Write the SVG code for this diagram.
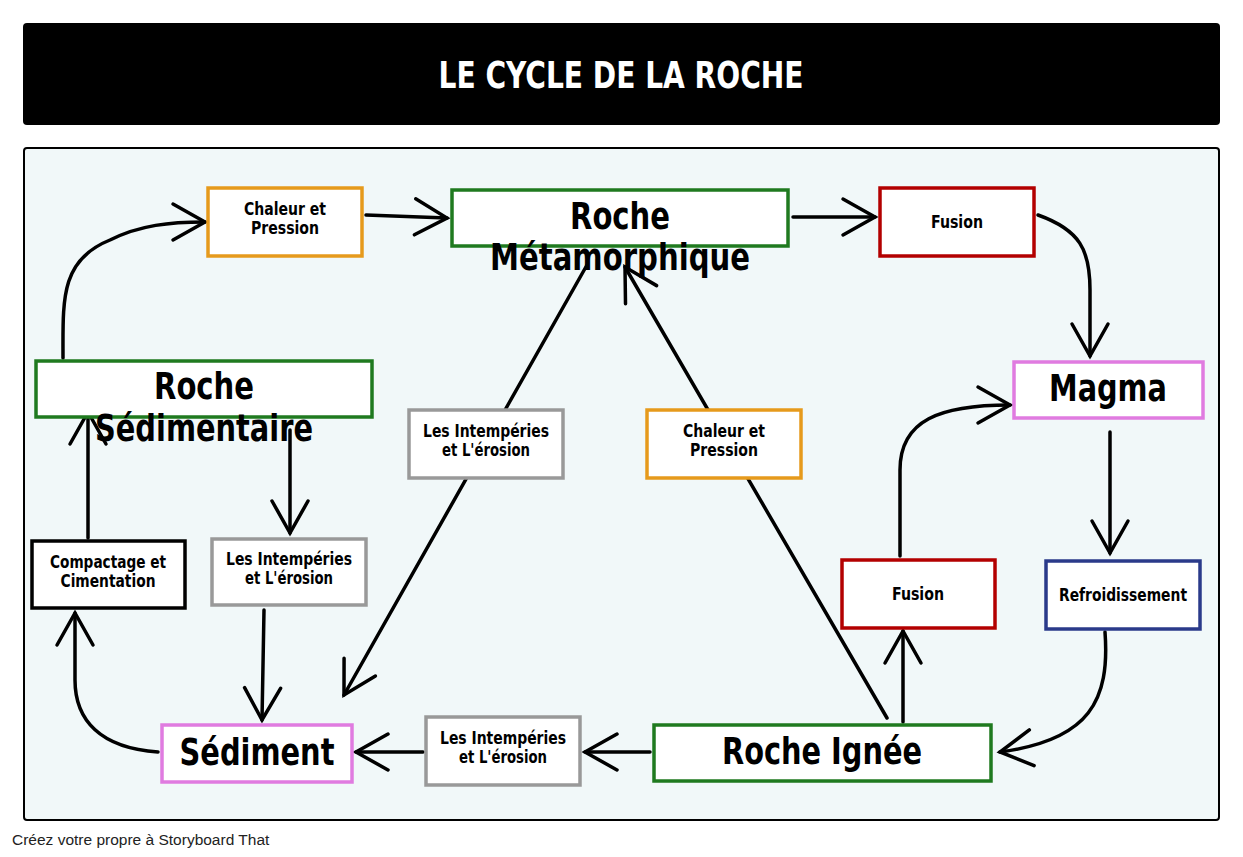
<svg xmlns="http://www.w3.org/2000/svg" width="1243" height="857" viewBox="0 0 1243 857">
<style>
.t{font-family:"DejaVu Sans Condensed","Liberation Sans Narrow","Liberation Sans",sans-serif;font-weight:bold;text-anchor:middle;fill:#000}
.s{font-size:17px}.b{font-size:38px}
.c{fill:none;stroke:#000;stroke-width:3.5;stroke-linecap:round;marker-end:url(#a)}
.box{fill:#fff;stroke-width:3.5}
</style>
<defs><marker id="a" markerUnits="userSpaceOnUse" markerWidth="50" markerHeight="50" refX="2" refY="20" orient="auto" viewBox="-40 0 50 40"><path d="M-30 2 L2 20 L-30 38" fill="none" stroke="#000" stroke-width="3.5" stroke-linecap="round"/></marker></defs>
<rect width="1243" height="857" fill="#fff"/>
<rect x="23" y="23" width="1197" height="102" rx="4" fill="#000"/>
<text x="621" y="88" class="t" style="fill:#fff;font-size:38px" textLength="365" lengthAdjust="spacingAndGlyphs">LE CYCLE DE LA ROCHE</text>
<rect x="24" y="148" width="1195" height="672" rx="3" fill="#f1f8f9" stroke="#000" stroke-width="2"/>
<g id="connectors">
<path class="c" d="M63 358 C63 300 60 260 110 240 C140 225 170 222 205 222"/>
<path class="c" d="M366 215 L447 218"/>
<path class="c" d="M793 217 L875 217"/>
<path class="c" d="M1038 215 C1080 230 1090 250 1090 290 L1090 356"/>
<path class="c" d="M1110 432 L1110 553"/>
<path class="c" d="M1105 632 C1110 700 1090 740 1000 752"/>
<path class="c" d="M650 752 L585 752"/>
<path class="c" d="M423 752 L356 752"/>
<path class="c" d="M158 752 C100 748 75 720 75 680 L75 613"/>
<path class="c" d="M88 538 L88 412"/>
<path class="c" d="M290 430 L290 533"/>
<path class="c" d="M264 610 L262 720"/>
<path class="c" d="M587 265 L344 695"/>
<path class="c" d="M887 718 L625 267"/>
<path class="c" d="M903 722 L903 631"/>
<path class="c" d="M900 556 L900 470 C900 420 940 405 1010 405"/>
</g>
<g id="n1"><rect class="box" x="208" y="188" width="154" height="68" stroke="#e69a1c"/><text class="t s" x="285" y="215" textLength="82" lengthAdjust="spacingAndGlyphs">Chaleur et</text><text class="t s" x="285" y="234" textLength="68" lengthAdjust="spacingAndGlyphs">Pression</text></g>
<g id="n2"><rect class="box" x="452" y="190" width="336" height="56" stroke="#1f7a1f"/><text class="t b" x="620" y="229" textLength="100" lengthAdjust="spacingAndGlyphs">Roche</text><text class="t b" x="620" y="270" textLength="260" lengthAdjust="spacingAndGlyphs">Métamorphique</text></g>
<g id="n3"><rect class="box" x="880" y="188" width="154" height="68" stroke="#b30000"/><text class="t s" x="957" y="228" textLength="52" lengthAdjust="spacingAndGlyphs">Fusion</text></g>
<g id="n4"><rect class="box" x="1014" y="362" width="189" height="56" stroke="#e07be0"/><text class="t b" x="1108" y="401" textLength="118" lengthAdjust="spacingAndGlyphs">Magma</text></g>
<g id="n5"><rect class="box" x="36" y="361" width="336" height="56" stroke="#1f7a1f"/><text class="t b" x="204" y="399" textLength="100" lengthAdjust="spacingAndGlyphs">Roche</text><text class="t b" x="204" y="441" textLength="218" lengthAdjust="spacingAndGlyphs">Sédimentaire</text></g>
<g id="n6"><rect class="box" x="409" y="410" width="154" height="68" stroke="#999"/><text class="t s" x="486" y="437" textLength="126" lengthAdjust="spacingAndGlyphs">Les Intempéries</text><text class="t s" x="486" y="456" textLength="88" lengthAdjust="spacingAndGlyphs">et L'érosion</text></g>
<g id="n7"><rect class="box" x="647" y="410" width="154" height="68" stroke="#e69a1c"/><text class="t s" x="724" y="437" textLength="82" lengthAdjust="spacingAndGlyphs">Chaleur et</text><text class="t s" x="724" y="456" textLength="68" lengthAdjust="spacingAndGlyphs">Pression</text></g>
<g id="n8"><rect class="box" x="32" y="541" width="153" height="67" stroke="#000"/><text class="t s" x="108" y="568" textLength="116" lengthAdjust="spacingAndGlyphs">Compactage et</text><text class="t s" x="108" y="587" textLength="95" lengthAdjust="spacingAndGlyphs">Cimentation</text></g>
<g id="n9"><rect class="box" x="212" y="539" width="154" height="66" stroke="#999"/><text class="t s" x="289" y="565" textLength="126" lengthAdjust="spacingAndGlyphs">Les Intempéries</text><text class="t s" x="289" y="584" textLength="88" lengthAdjust="spacingAndGlyphs">et L'érosion</text></g>
<g id="n10"><rect class="box" x="842" y="560" width="153" height="68" stroke="#b30000"/><text class="t s" x="918" y="600" textLength="52" lengthAdjust="spacingAndGlyphs">Fusion</text></g>
<g id="n11"><rect class="box" x="1046" y="561" width="154" height="68" stroke="#2a3a8a"/><text class="t s" x="1123" y="601" textLength="128" lengthAdjust="spacingAndGlyphs">Refroidissement</text></g>
<g id="n12"><rect class="box" x="162" y="725" width="190" height="57" stroke="#e07be0"/><text class="t b" x="257" y="765" textLength="155" lengthAdjust="spacingAndGlyphs">Sédiment</text></g>
<g id="n13"><rect class="box" x="426" y="717" width="154" height="68" stroke="#999"/><text class="t s" x="503" y="744" textLength="126" lengthAdjust="spacingAndGlyphs">Les Intempéries</text><text class="t s" x="503" y="763" textLength="88" lengthAdjust="spacingAndGlyphs">et L'érosion</text></g>
<g id="n14"><rect class="box" x="654" y="725" width="337" height="56" stroke="#1f7a1f"/><text class="t b" x="822" y="764" textLength="200" lengthAdjust="spacingAndGlyphs">Roche Ignée</text></g>
<text x="12" y="845" style="font-family:'Liberation Sans',sans-serif;font-size:15.5px;fill:#222">Créez votre propre à Storyboard That</text>
</svg>
